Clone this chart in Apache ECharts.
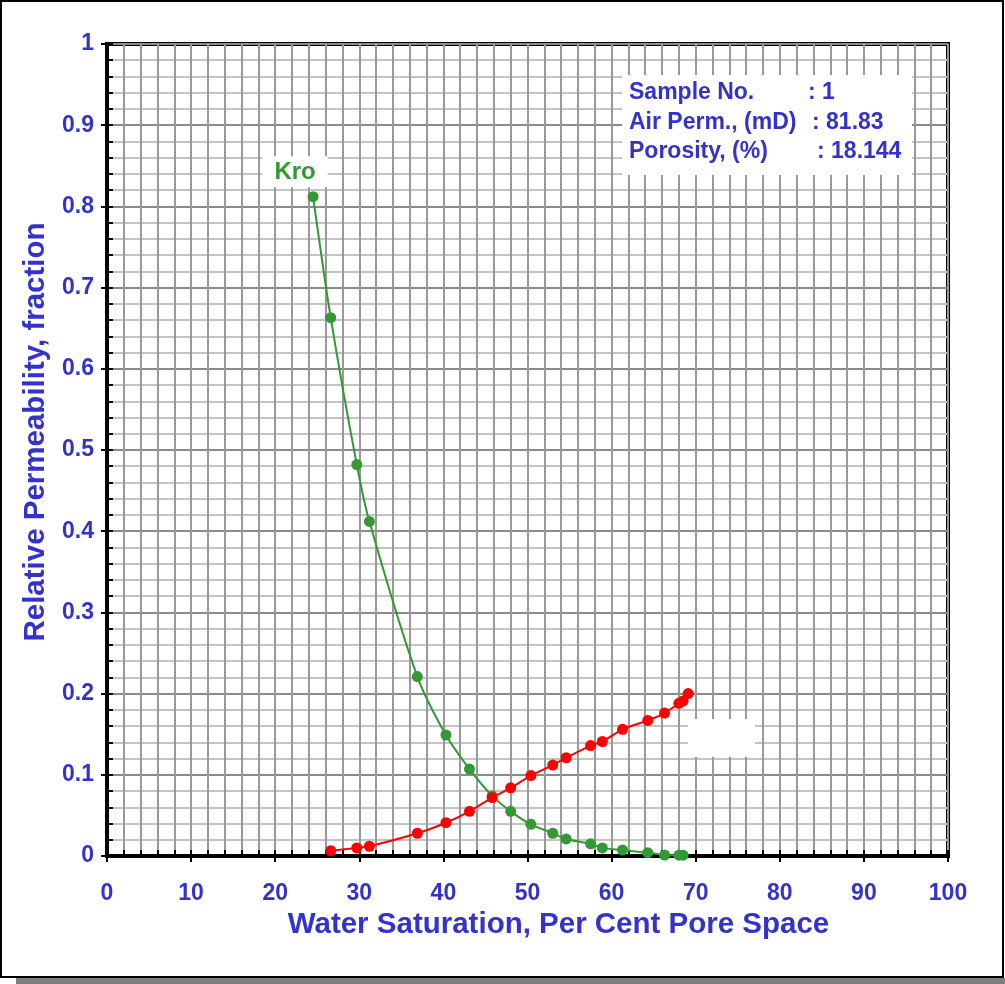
<!DOCTYPE html>
<html>
<head>
<meta charset="utf-8">
<title>Relative Permeability</title>
<script src="https://cdn.jsdelivr.net/npm/echarts@6/dist/echarts.min.js"></script>
<style>
  html, body { margin: 0; padding: 0; background: #fff; }
  #chart { width: 1005px; height: 984px; }
</style>
</head>
<body>
<div id="chart"></div>
<script>
// Oil relative permeability (Kro) vs water saturation
const kroSw = [24.5, 26.6, 29.7, 31.2, 36.9, 40.3, 43.1, 45.8, 48.0, 50.4, 53.0, 54.6, 57.5, 58.9, 61.3, 64.3, 66.3, 68.0, 68.5];
const kroValues = [0.812, 0.663, 0.482, 0.412, 0.221, 0.149, 0.107, 0.074, 0.055, 0.039, 0.028, 0.021, 0.015, 0.010, 0.0074, 0.0041, 0.0012, 0.001, 0.001];

// Water relative permeability (Krw) vs water saturation
const krwSw = [26.6, 29.7, 31.2, 36.9, 40.3, 43.1, 45.8, 48.0, 50.4, 53.0, 54.6, 57.5, 58.9, 61.3, 64.3, 66.3, 68.0, 68.5, 69.1];
const krwValues = [0.0066, 0.010, 0.012, 0.028, 0.041, 0.055, 0.072, 0.084, 0.099, 0.112, 0.121, 0.136, 0.141, 0.156, 0.167, 0.176, 0.188, 0.191, 0.200];

// Sample information shown in the box
const infoLabels = ['Sample No.', 'Air Perm., (mD)', 'Porosity, (%)'];
const infoValues = [': 1', ': 81.83', ': 18.144'];

const BLUE = '#3333cc';
const GREEN = '#339933';
const RED = '#ff0000';
const FONT = '"Liberation Sans", Arial, sans-serif';

const kroData = kroSw.map((x, i) => {
  const item = { value: [x, kroValues[i]] };
  if (i === 0) {
    item.label = {
      show: true,
      formatter: 'Kro',
      position: 'top',
      distance: 4,
      offset: [-18, 0],
      color: GREEN,
      fontFamily: FONT,
      fontWeight: 'bold',
      fontSize: 24,
      backgroundColor: '#ffffff',
      padding: [4, 12, 3, 12]
    };
  }
  return item;
});
const krwData = krwSw.map((x, i) => [x, krwValues[i]]);

const infoTexts = [];
const lineY = [93, 123, 152];
const colonX = [808, 812, 817];
infoLabels.forEach((t, i) => {
  infoTexts.push({
    type: 'text', z: 11, x: 629, y: lineY[i],
    style: { text: t, font: 'bold 23px ' + FONT, fill: BLUE, textAlign: 'left', textVerticalAlign: 'middle' }
  });
  infoTexts.push({
    type: 'text', z: 11, x: colonX[i], y: lineY[i],
    style: { text: infoValues[i], font: 'bold 23px ' + FONT, fill: BLUE, textAlign: 'left', textVerticalAlign: 'middle' }
  });
});

const chart = echarts.init(document.getElementById('chart'), null, { renderer: 'canvas' });

const option = {
  animation: false,
  backgroundColor: '#ffffff',
  grid: {
    left: 107, top: 44, right: 57, bottom: 128,
    show: true, borderColor: '#000', borderWidth: 4, backgroundColor: 'transparent'
  },
  xAxis: [
    {
      type: 'value', min: 0, max: 100, interval: 2, position: 'bottom',
      axisLine: { show: true, lineStyle: { color: '#000', width: 4 } },
      axisTick: { show: true, inside: true, length: 6, lineStyle: { color: '#000', width: 2 } },
      axisLabel: { show: false },
      splitLine: { show: true, lineStyle: { color: '#999999', width: 2 } }
    },
    {
      type: 'value', min: 0, max: 100, interval: 10, position: 'bottom', offset: 0,
      axisLine: { show: false },
      axisTick: { show: true, inside: false, length: 6, lineStyle: { color: '#000', width: 2 } },
      axisLabel: { show: true, margin: 26, color: BLUE, fontFamily: FONT, fontWeight: 'bold', fontSize: 23 },
      splitLine: { show: false },
      name: 'Water Saturation, Per Cent Pore Space',
      nameLocation: 'middle',
      nameGap: 54,
      nameTextStyle: { color: BLUE, fontFamily: FONT, fontWeight: 'bold', fontSize: 29.5, padding: [0, 0, 0, 62] }
    }
  ],
  yAxis: [
    {
      type: 'value', min: 0, max: 1, interval: 0.02, position: 'left',
      axisLine: { show: true, lineStyle: { color: '#000', width: 4 } },
      axisTick: { show: true, inside: true, length: 6, lineStyle: { color: '#000', width: 2 } },
      axisLabel: { show: false },
      splitLine: { show: true, lineStyle: { color: '#c4c4c4', width: 2 } }
    },
    {
      type: 'value', min: 0, max: 1, interval: 0.1, position: 'left', offset: 0,
      axisLine: { show: false },
      axisTick: { show: true, inside: false, length: 6, lineStyle: { color: '#000', width: 2 } },
      axisLabel: { show: true, margin: 13, color: BLUE, fontFamily: FONT, fontWeight: 'bold', fontSize: 23 },
      splitLine: { show: true, lineStyle: { color: '#8a8a8a', width: 2 } },
      name: 'Relative Permeability, fraction',
      nameLocation: 'middle',
      nameGap: 55,
      nameTextStyle: { color: BLUE, fontFamily: FONT, fontWeight: 'bold', fontSize: 29.5, padding: [0, 0, 0, 36] }
    }
  ],
  series: [
    {
      name: 'Kro', type: 'line', xAxisIndex: 0, yAxisIndex: 0,
      data: kroData, smooth: 0.25,
      symbol: 'circle', symbolSize: 11,
      itemStyle: { color: GREEN },
      lineStyle: { color: GREEN, width: 2 },
      z: 3
    },
    {
      name: 'Krw', type: 'line', xAxisIndex: 0, yAxisIndex: 0,
      data: krwData, smooth: 0.25,
      symbol: 'circle', symbolSize: 11,
      itemStyle: { color: RED },
      lineStyle: { color: RED, width: 2 },
      z: 3
    }
  ],
  graphic: [
    // page frame with drop shadow
    { type: 'rect', z: 0, shape: { x: 16, y: 978, width: 989, height: 6 }, style: { fill: '#808080' } },
    { type: 'rect', z: 0, shape: { x: 1, y: 1, width: 1002, height: 976 }, style: { fill: 'none', stroke: '#000', lineWidth: 2 } },
    // blank label box near the end of the water curve
    { type: 'rect', z: 10, shape: { x: 688, y: 719, width: 67, height: 38 }, style: { fill: '#ffffff' } },
    // sample information box
    { type: 'rect', z: 10, shape: { x: 622, y: 75, width: 290, height: 100 }, style: { fill: '#ffffff' } }
  ].concat(infoTexts)
};

chart.setOption(option);
</script>
</body>
</html>
